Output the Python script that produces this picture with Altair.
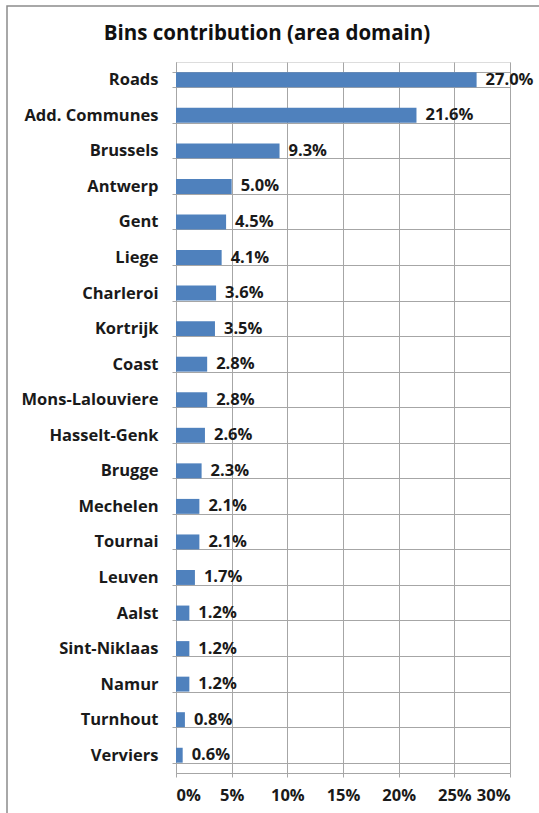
import altair as alt
import pandas as pd

categories = ["Roads", "Add. Communes", "Brussels", "Antwerp", "Gent", "Liege",
              "Charleroi", "Kortrijk", "Coast", "Mons-Lalouviere", "Hasselt-Genk",
              "Brugge", "Mechelen", "Tournai", "Leuven", "Aalst", "Sint-Niklaas",
              "Namur", "Turnhout", "Verviers"]
values = [27.0, 21.6, 9.3, 5.0, 4.5, 4.1, 3.6, 3.5, 2.8, 2.8, 2.6, 2.3, 2.1, 2.1,
          1.7, 1.2, 1.2, 1.2, 0.8, 0.6]
x_ticks = [0, 0.05, 0.10, 0.15, 0.20, 0.25, 0.30]
title_text = "Bins contribution (area domain)"

df = pd.DataFrame({
    "cat": categories,
    "val": [v / 100 for v in values],
    "label": [f"{v:.1f}%" for v in values],
})

FONT = "Open Sans"
GRID = "#a6a6a6"
TXT = "#1a1a1a"

y_enc = alt.Y("cat:N", sort=categories, title=None,
              scale=alt.Scale(paddingInner=0.58, paddingOuter=0.29),
              axis=alt.Axis(labelFont=FONT, labelFontSize=16.5, labelFontWeight="bold",
                            labelColor=TXT, labelPadding=14,
                            ticks=True, tickSize=4, tickColor=GRID, tickBand="extent",
                            grid=True, gridColor=GRID, domainColor=GRID))
x_enc = alt.X("val:Q", title=None,
              scale=alt.Scale(domain=[0, 0.30], nice=False),
              axis=alt.Axis(values=x_ticks, format=".0%", labelFont=FONT, labelFontSize=16.5,
                            labelFontWeight="bold", labelColor=TXT, labelPadding=10,
                            tickSize=4, tickColor=GRID, gridColor=GRID, domainColor=GRID))

bars = alt.Chart(df).mark_bar(color="#4F81BD").encode(x=x_enc, y=y_enc)
labels = alt.Chart(df).mark_text(align="left", baseline="middle", dx=9, font=FONT,
                                 fontSize=16.5, fontWeight="bold", color=TXT).encode(
    x="val:Q", y=alt.Y("cat:N", sort=categories), text="label:N")

frame = alt.Chart(pd.DataFrame({"f": [0]})).mark_rect(
    fill=None, stroke="#8c8c8c", strokeWidth=1.5).encode(
    x=alt.value(-169), x2=alt.value(400), y=alt.value(-56), y2=alt.value(800))

title = alt.Chart(pd.DataFrame({"t": [title_text]})).mark_text(
    font=FONT, fontSize=20.5, fontWeight="bold", color="#111111",
    align="center", baseline="alphabetic").encode(
    text="t:N", x=alt.value(91), y=alt.value(-22))

chart = alt.layer(frame, bars, labels, title).properties(
    width=334, height=711,
    autosize=alt.AutoSizeParams(type="none"),
    padding={"left": 176, "top": 62, "right": 29, "bottom": 40},
).configure_view(stroke=GRID).configure(background="white")

chart.save("out.html", embed_options={"renderer": "svg", "actions": False})
